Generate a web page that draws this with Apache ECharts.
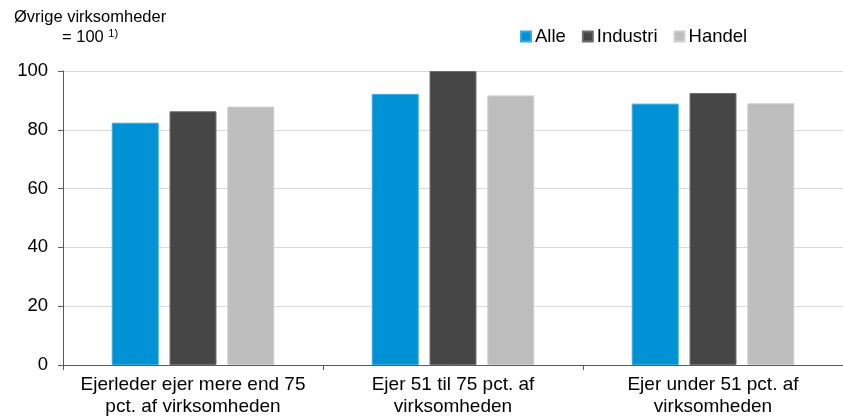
<!DOCTYPE html>
<html>
<head>
<meta charset="utf-8">
<script src="https://cdn.jsdelivr.net/npm/echarts@6/dist/echarts.min.js"></script>
<style>
  html, body { margin: 0; padding: 0; background: #fff; }
  #chart { width: 843px; height: 418px; }
</style>
</head>
<body>
<div id="chart"></div>
<script>
// Ejerandel og indeks (øvrige virksomheder = 100)
const categories = [
  'Ejerleder ejer mere end 75\npct. af virksomheden',
  'Ejer 51 til 75 pct. af\nvirksomheden',
  'Ejer under 51 pct. af\nvirksomheden'
];
const seriesNames = ['Alle', 'Industri', 'Handel'];
const alle = [82.4, 92.2, 88.9];
const industri = [86.3, 100, 92.5];
const handel = [87.9, 91.7, 89.0];
const yTicks = [0, 20, 40, 60, 80, 100];

const colors = ['#0092d4', '#464646', '#bdbdbd'];
const borders = ['#3aa9df', '#6e6e6e', '#d0d0d0'];
const font = 'Arial, "Liberation Sans", Helvetica, sans-serif';

const chart = echarts.init(document.getElementById('chart'), null, { renderer: 'canvas' });

const values = [alle, industri, handel];

chart.setOption({
  animation: false,
  textStyle: { fontFamily: font },
  graphic: [
    {
      type: 'text', left: 14, top: 9,
      style: { text: 'Øvrige virksomheder', font: '16.5px ' + font, fill: '#000' }
    },
    {
      type: 'text', left: 62, top: 28,
      style: {
        text: '= 100 {sup|1)}',
        font: '16.5px ' + font, fill: '#000',
        rich: { sup: { fontSize: 11, verticalAlign: 'top', padding: [0, 0, 8, 0], fontFamily: font } }
      }
    }
  ],
  legend: {
    data: seriesNames,
    left: 515, top: 22,
    itemWidth: 10, itemHeight: 10, itemGap: 16,
    icon: 'rect',
    textStyle: { fontSize: 18.5, color: '#000', fontFamily: font, padding: [0, 0, 0, -1] }
  },
  grid: { left: 63, right: 0, top: 71, bottom: 52, containLabel: false },
  xAxis: {
    type: 'category',
    data: categories,
    axisLine: { lineStyle: { color: '#5a5a5a', width: 1 } },
    axisTick: { show: true, length: 5, lineStyle: { color: '#5a5a5a' } },
    axisLabel: { fontSize: 19, color: '#000', lineHeight: 22, margin: 9, fontFamily: font, interval: 0 }
  },
  yAxis: {
    type: 'value',
    min: yTicks[0], max: yTicks[yTicks.length - 1], interval: 20,
    axisLine: { show: true, lineStyle: { color: '#5a5a5a' } },
    axisTick: { show: true, length: 5, lineStyle: { color: '#5a5a5a' } },
    axisLabel: { fontSize: 18.5, color: '#000', margin: 15, fontFamily: font },
    splitLine: { lineStyle: { color: '#d9d9d9' } }
  },
  series: seriesNames.map((name, i) => ({
    name,
    type: 'bar',
    data: values[i],
    barGap: '23%',
    barCategoryGap: '37.5%',
    itemStyle: { color: colors[i], borderColor: borders[i], borderWidth: 1 }
  }))
});
</script>
</body>
</html>
